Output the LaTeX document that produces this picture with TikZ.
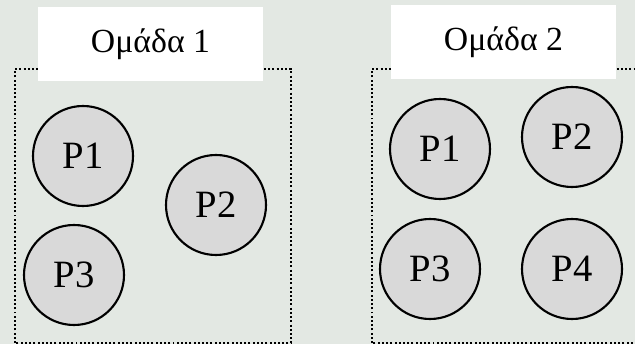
\documentclass[tikz,border=0pt]{standalone}
\usepackage{fontspec}
\setmainfont{Liberation Serif}
\usepackage{tikz}

\definecolor{bgcolor}{HTML}{E3E8E3}
\definecolor{procgray}{HTML}{D9D9D9}

\begin{document}
\begin{tikzpicture}[proc/.style={circle, draw, fill=procgray, line width=1.5pt, minimum size=2.5cm, inner sep=0pt, font=\fontsize{27.5}{30}\selectfont},
  grouplabel/.style={fill=white, minimum width=5.625cm, minimum height=1.85cm, inner sep=0pt, font=\fontsize{24}{28}\selectfont},
  groupbox/.style={line width=1.4pt, dash pattern=on 1.4pt off 1.6pt}]
\useasboundingbox (0,0) rectangle (15.875,8.6);
\clip (0,0) rectangle (15.875,8.6);
\fill[bgcolor] (0,0) rectangle (15.875,8.6);

\draw[groupbox] (0.375,0.025) rectangle (7.275,6.875);
\draw[groupbox] (9.3,0.025) rectangle (16.2,6.875);

\node[grouplabel] (g1) at (3.7625,7.5) {Ομάδα 1};
\node[grouplabel] (g2) at (12.5875,7.55) {Ομάδα 2};

\node[proc] (g1p1) at (2.075,4.7) {P1};
\node[proc] (g1p2) at (5.4,3.475) {P2};
\node[proc] (g1p3) at (1.85,1.725) {P3};

\node[proc] (g2p1) at (11.0,4.875) {P1};
\node[proc] (g2p2) at (14.3,5.175) {P2};
\node[proc] (g2p3) at (10.75,1.875) {P3};
\node[proc] (g2p4) at (14.3,1.875) {P4};
\end{tikzpicture}
\end{document}
